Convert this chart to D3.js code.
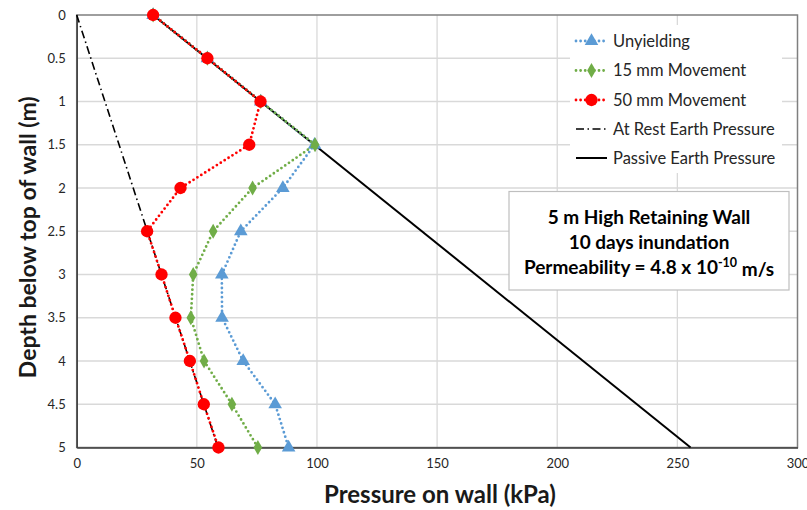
<!DOCTYPE html>
<html>
<head>
<meta charset="utf-8">
<script src="https://cdn.jsdelivr.net/npm/d3@7"></script>
<style>
  html, body { margin: 0; padding: 0; background: #ffffff; }
  svg { display: block; font-family: Lato, "Open Sans", sans-serif; }
</style>
</head>
<body>
<svg id="chart" width="807" height="510"></svg>
<script>
// Depth below top of wall (m)
const depths = [0, 0.5, 1, 1.5, 2, 2.5, 3, 3.5, 4, 4.5, 5];

// Pressure on wall (kPa) at each depth
const unyielding = [31.8, 54.4, 76.6, 99.0, 85.8, 68.3, 60.4, 60.5, 69.3, 82.6, 88.2];
const movement15 = [31.8, 54.4, 76.6, 99.2, 73.2, 56.8, 48.5, 47.5, 53.0, 64.6, 75.4];
const movement50 = [31.8, 54.4, 76.5, 71.8, 43.2, 29.3, 35.3, 41.1, 47.1, 52.9, 59.0];

// Reference earth pressure lines (depth, pressure)
const atRestDepth = [0, 5];
const atRestPressure = [0, 58.8];
const passiveDepth = [0, 5];
const passivePressure = [31.8, 255.5];

const xTicks = [0, 50, 100, 150, 200, 250, 300];
const yTicks = [0, 0.5, 1, 1.5, 2, 2.5, 3, 3.5, 4, 4.5, 5];

const legendLabels = ["Unyielding", "15 mm Movement", "50 mm Movement", "At Rest Earth Pressure", "Passive Earth Pressure"];
const noteLines = ["5 m High Retaining Wall", "10 days inundation"];

const svg = d3.select("#chart");
const pLeft = 76.7, pRight = 797.5, pTop = 15, pBottom = 447.5;

const x = d3.scaleLinear().domain([0, 300]).range([pLeft, pRight]);
const y = d3.scaleLinear().domain([0, 5]).range([pTop, pBottom]);

// gridlines
const grid = svg.append("g");
grid.selectAll("line.v").data(xTicks.slice(1, -1)).join("line")
  .attr("x1", d => x(d)).attr("x2", d => x(d))
  .attr("y1", pTop).attr("y2", pBottom)
  .attr("stroke", "#d9d9d9").attr("stroke-width", 1.3);
grid.selectAll("line.h").data(yTicks.slice(1, -1)).join("line")
  .attr("x1", pLeft).attr("x2", pRight)
  .attr("y1", d => y(d)).attr("y2", d => y(d))
  .attr("stroke", "#d9d9d9").attr("stroke-width", 1.3);

// plot frame
svg.append("rect")
  .attr("x", pLeft).attr("y", pTop)
  .attr("width", pRight - pLeft).attr("height", pBottom - pTop)
  .attr("fill", "none").attr("stroke", "#7f7f7f").attr("stroke-width", 1.5);

// axes
const xAxis = svg.append("g")
  .attr("transform", `translate(0,${pBottom})`)
  .call(d3.axisBottom(x).tickValues(xTicks).tickSize(0).tickPadding(11).tickFormat(d3.format("d")));
const yAxis = svg.append("g")
  .attr("transform", `translate(${pLeft},0)`)
  .call(d3.axisLeft(y).tickValues(yTicks).tickSize(0).tickPadding(11).tickFormat(d => d));
[xAxis, yAxis].forEach(g => {
  g.select(".domain").attr("stroke", "#404040").attr("stroke-width", 1.5);
  g.selectAll("text").attr("font-family", "Lato, sans-serif").attr("font-size", 13)
    .attr("fill", "#262626");
});

// axis titles
svg.append("text")
  .attr("x", 440).attr("y", 503)
  .attr("text-anchor", "middle")
  .attr("font-size", 24).attr("font-weight", "bold").attr("fill", "#1a1a1a")
  .text("Pressure on wall (kPa)");
svg.append("text")
  .attr("transform", `translate(36,${(pTop + pBottom) / 2 + 6}) rotate(-90)`)
  .attr("text-anchor", "middle")
  .attr("font-size", 23).attr("font-weight", "bold").attr("fill", "#1a1a1a")
  .text("Depth below top of wall (m)");

const plot = svg.append("g");

// reference lines
const refLine = d3.line().x(d => x(d[1])).y(d => y(d[0]));
plot.append("path")
  .datum(passiveDepth.map((d, i) => [d, passivePressure[i]]))
  .attr("d", refLine).attr("fill", "none")
  .attr("stroke", "#000").attr("stroke-width", 2);
plot.append("path")
  .datum(atRestDepth.map((d, i) => [d, atRestPressure[i]]))
  .attr("d", refLine).attr("fill", "none")
  .attr("stroke", "#000").attr("stroke-width", 1.6)
  .attr("stroke-dasharray", "8 3.5 1.5 3.5");

// measured series
const series = [
  { name: legendLabels[0], values: unyielding, color: "#5b9bd5", symbol: d3.symbolTriangle, size: 80 },
  { name: legendLabels[1], values: movement15, color: "#70ad47", symbol: d3.symbolDiamond, size: 65 },
  { name: legendLabels[2], values: movement50, color: "#ff0000", symbol: d3.symbolCircle, size: 120 }
];

const line = d3.line().x(d => x(d[1])).y(d => y(d[0]));
series.forEach(s => {
  const pts = depths.map((d, i) => [d, s.values[i]]);
  const g = plot.append("g");
  g.append("path").datum(pts).attr("d", line).attr("fill", "none")
    .attr("stroke", s.color).attr("stroke-width", 2.8)
    .attr("stroke-linecap", "round").attr("stroke-dasharray", "0 4.6");
  g.selectAll("path.m").data(pts).join("path")
    .attr("transform", d => `translate(${x(d[1])},${y(d[0])})`)
    .attr("d", d3.symbol(s.symbol, s.size)).attr("fill", s.color);
});

// legend
const lg = svg.append("g");
lg.append("rect").attr("x", 570).attr("y", 25).attr("width", 212).attr("height", 148).attr("fill", "#fff");
const rowY = [41, 70.5, 100, 129, 158];
legendLabels.forEach((lab, i) => {
  const ry = rowY[i];
  const row = lg.append("g");
  if (i < 3) {
    const s = series[i];
    row.append("line").attr("x1", 576).attr("x2", 607).attr("y1", ry).attr("y2", ry)
      .attr("stroke", s.color).attr("stroke-width", 2.8)
      .attr("stroke-linecap", "round").attr("stroke-dasharray", "0 4.6");
    row.append("path").attr("transform", `translate(591.5,${ry})`)
      .attr("d", d3.symbol(s.symbol, s.size)).attr("fill", s.color);
  } else if (i === 3) {
    row.append("line").attr("x1", 576).attr("x2", 607).attr("y1", ry).attr("y2", ry)
      .attr("stroke", "#000").attr("stroke-width", 1.6)
      .attr("stroke-dasharray", "8 3.5 1.5 3.5");
  } else {
    row.append("line").attr("x1", 576).attr("x2", 607).attr("y1", ry).attr("y2", ry)
      .attr("stroke", "#000").attr("stroke-width", 2);
  }
  row.append("text").attr("x", 613).attr("y", ry).attr("dy", "0.35em")
    .attr("font-size", 16.5).attr("fill", "#262626").text(lab);
});

// note box
const nb = svg.append("g");
nb.append("rect").attr("x", 509).attr("y", 191.5).attr("width", 280).attr("height", 98.5)
  .attr("fill", "#fff").attr("stroke", "#bfbfbf").attr("stroke-width", 1.2);
const cx = 649;
nb.selectAll("text.n").data(noteLines).join("text")
  .attr("x", cx).attr("y", (d, i) => 217 + i * 25).attr("dy", "0.35em")
  .attr("text-anchor", "middle").attr("font-size", 19).attr("font-weight", "bold")
  .attr("fill", "#000").text(d => d);
const perm = nb.append("text").attr("x", cx).attr("y", 267).attr("dy", "0.35em")
  .attr("text-anchor", "middle").attr("font-size", 19).attr("font-weight", "bold").attr("fill", "#000");
perm.append("tspan").text("Permeability = 4.8 x 10");
perm.append("tspan").attr("font-size", 12.5).attr("dy", "-0.55em").text("-10");
perm.append("tspan").attr("dy", "0.5em").text(" m/s");
</script>
</body>
</html>
